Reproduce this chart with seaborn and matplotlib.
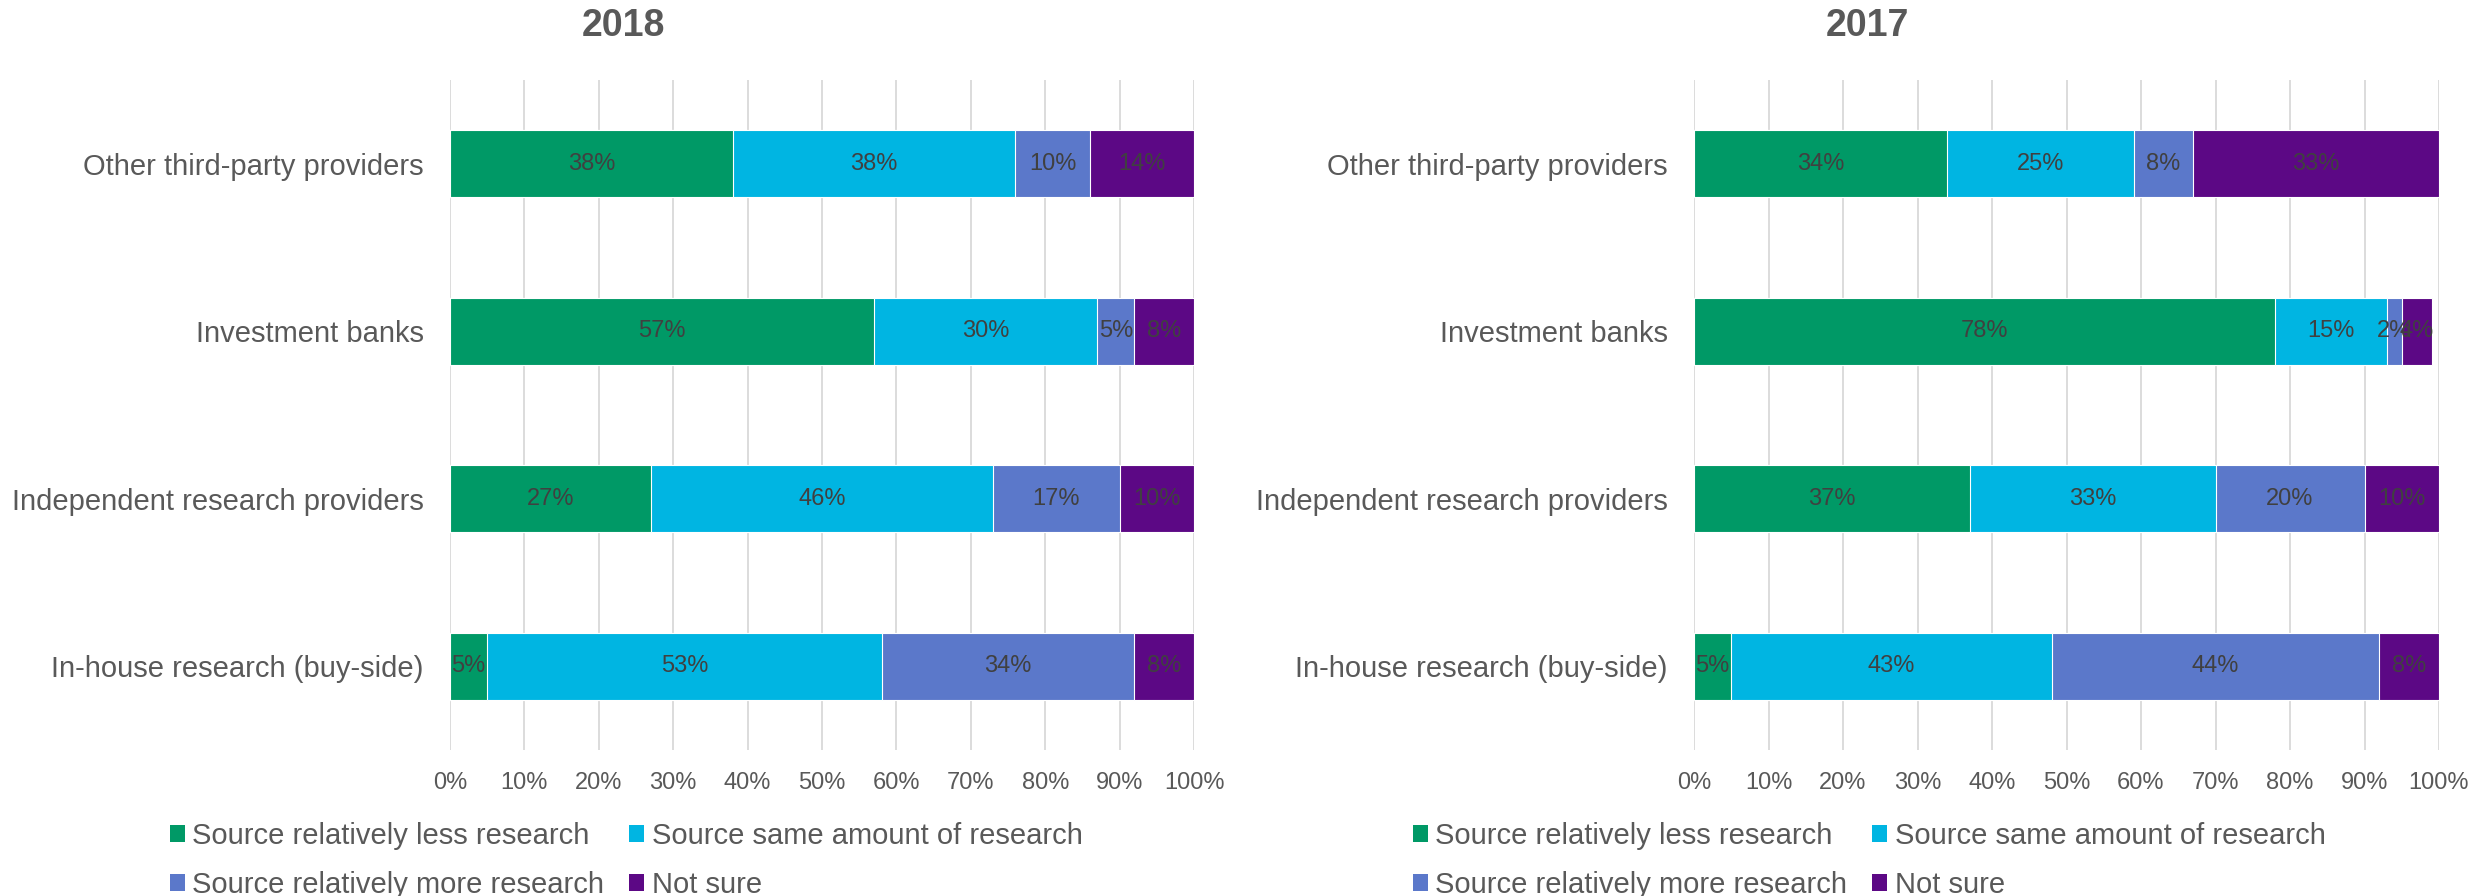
import numpy as np
import pandas as pd
import matplotlib
matplotlib.use("Agg")
import matplotlib.pyplot as plt
from matplotlib.patches import Patch
import seaborn as sns

# Survey categories, top to bottom
categories = [
    "Other third-party providers",
    "Investment banks",
    "Independent research providers",
    "In-house research (buy-side)",
]

series = [
    "Source relatively less research",
    "Source same amount of research",
    "Source relatively more research",
    "Not sure",
]
colors = ["#009966", "#00B5E2", "#5B78CA", "#5C0885"]

# Shares (%) per category, one list per response
less_2018 = [38, 57, 27, 5]
same_2018 = [38, 30, 46, 53]
more_2018 = [10, 5, 17, 34]
notsure_2018 = [14, 8, 10, 8]

less_2017 = [34, 78, 37, 5]
same_2017 = [25, 15, 33, 43]
more_2017 = [8, 2, 20, 44]
notsure_2017 = [33, 4, 10, 8]

tick_values = [0, 10, 20, 30, 40, 50, 60, 70, 80, 90, 100]
tick_labels = [f"{t}%" for t in tick_values]

sns.set_theme(style="white")
plt.rcParams["font.family"] = ["Liberation Sans", "DejaVu Sans"]

TEXT = "#595959"
LABEL = "#404040"
GRID = "#D9D9D9"

fig = plt.figure(figsize=(24.83, 8.96), dpi=100)
ax_l = fig.add_axes([450 / 2483, 0.163, 744 / 2483, 0.748])
ax_r = fig.add_axes([1694 / 2483, 0.163, 745 / 2483, 0.748])


def stacked(ax, cols, title, title_x):
    df = pd.DataFrame({"category": categories})
    for name, vals in zip(series, cols):
        df[name] = vals
    cum = df[series].cumsum(axis=1)
    cum["category"] = df["category"]
    # draw cumulative totals from the largest so each segment shows through
    for i in range(len(series) - 1, -1, -1):
        sns.barplot(data=cum, x=series[i], y="category",
                    order=categories, color=colors[i], width=0.4, orient="h",
                    edgecolor="white", linewidth=0.8, saturation=1, ax=ax)
    for r, cat in enumerate(categories):
        left = 0
        for name in series:
            v = df.loc[r, name]
            ax.text(left + v / 2, r, f"{v}%", ha="center", va="center",
                    fontsize=17, color=LABEL)
            left += v
    ax.set_xlim(0, 100)
    ax.set_ylim(3.5, -0.5)
    ax.set_xticks(tick_values)
    ax.set_xticklabels(tick_labels)
    ax.set_xlabel("")
    ax.set_ylabel("")
    ax.grid(axis="x", color=GRID, linewidth=1.3)
    ax.set_axisbelow(True)
    for s in ax.spines.values():
        s.set_visible(False)
    ax.tick_params(axis="x", length=0, pad=16, labelsize=17, labelcolor=TEXT)
    ax.tick_params(axis="y", length=0, pad=19, labelsize=21, labelcolor=TEXT)
    fig.text(title_x, 0.971, title, ha="center", va="center", fontsize=27,
             fontweight="bold", color=TEXT)


stacked(ax_l, [less_2018, same_2018, more_2018, notsure_2018], "2018", 623 / 2483)
stacked(ax_r, [less_2017, same_2017, more_2017, notsure_2017], "2017", 1867 / 2483)

# legend reads row by row: less | same, then more | not sure
handles = [Patch(facecolor=c, edgecolor="none", label=s) for c, s in zip(colors, series)]
legend_order = [handles[0], handles[2], handles[1], handles[3]]
for x0 in (170 / 2483, 1413 / 2483):
    fig.legend(handles=legend_order, loc="upper left", bbox_to_anchor=(x0, 0.083),
               ncol=2, frameon=False, fontsize=21, labelcolor=TEXT,
               handlelength=0.52, handleheight=0.5, handletextpad=0.25,
               columnspacing=0.85, labelspacing=0.73, borderpad=0,
               borderaxespad=0)

fig.savefig("out.png", dpi=100)
